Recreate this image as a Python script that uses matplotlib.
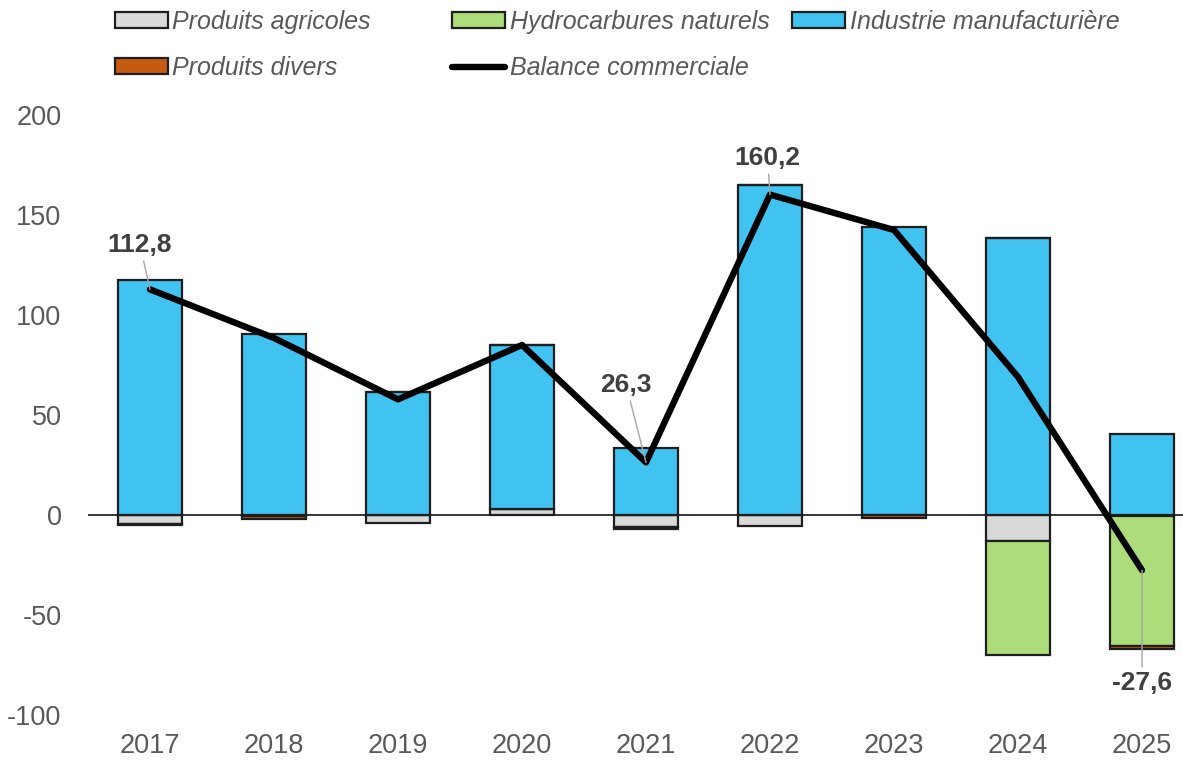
import matplotlib
matplotlib.use('Agg')
import matplotlib.pyplot as plt
from matplotlib.patches import Patch
from matplotlib.lines import Line2D
import numpy as np

# ---- data ----
years = ['2017', '2018', '2019', '2020', '2021', '2022', '2023', '2024', '2025']
produits_agricoles = [-4.5, -0.3, -4.0, 3.0, -6.0, -5.5, 0.0, -13.0, -0.5]
hydrocarbures_naturels = [0.0, 0.0, 0.0, 0.0, 0.0, 0.0, 0.0, -57.0, -65.0]
industrie_manufacturiere = [117.5, 90.5, 61.5, 82.0, 33.5, 165.0, 144.0, 138.5, 40.5]
produits_divers = [-0.3, -1.7, 0.0, 0.0, -1.2, 0.0, -1.5, 0.0, -1.5]
balance_commerciale = [112.8, 88.5, 57.8, 85.0, 26.3, 160.2, 142.5, 69.0, -27.6]
labels_balance = {0: '112,8', 4: '26,3', 5: '160,2', 8: '-27,6'}
y_ticks = [-100, -50, 0, 50, 100, 150, 200]

series = [
    ('Produits agricoles', produits_agricoles, '#D9D9D9'),
    ('Hydrocarbures naturels', hydrocarbures_naturels, '#ADDC7B'),
    ('Industrie manufacturière', industrie_manufacturiere, '#41C3F2'),
    ('Produits divers', produits_divers, '#C55A11'),
]

plt.rcParams['font.family'] = ['Liberation Sans', 'DejaVu Sans']
TXT = '#595959'

fig = plt.figure(figsize=(11.83, 7.6), dpi=100)
ax = fig.add_axes([88 / 1183, 45 / 760, 1116 / 1183, 600 / 760])

x = np.arange(len(years))
pos_base = np.zeros(len(years))
neg_base = np.zeros(len(years))
handles = {}
for name, vals, col in series:
    v = np.array(vals, dtype=float)
    bottom = np.where(v >= 0, pos_base, neg_base)
    ax.bar(x, v, 0.52, bottom=bottom, color=col, edgecolor='#1e1e1e',
           linewidth=1.6, zorder=2)
    handles[name] = Patch(facecolor=col, edgecolor='#1e1e1e', linewidth=1.6)
    pos_base = pos_base + np.where(v >= 0, v, 0)
    neg_base = neg_base + np.where(v < 0, v, 0)

ax.axhline(0, color='black', lw=1.1, zorder=1.5)

ax.plot(x, balance_commerciale, color='black', lw=4.6, solid_capstyle='round',
        solid_joinstyle='round', zorder=4)
handles['Balance commerciale'] = Line2D([0], [0], color='black', lw=4.6,
                                        solid_capstyle='round')

offsets = {0: (-0.08, 135), 4: (-0.16, 65), 5: (-0.02, 178.5), 8: (0.0, -84)}
for i, txt in labels_balance.items():
    dx, ty = offsets[i]
    ax.annotate(txt, xy=(x[i], balance_commerciale[i]), xytext=(x[i] + dx, ty),
                ha='center', va='center', fontsize=19, fontweight='bold',
                color='#404040', zorder=6,
                arrowprops=dict(arrowstyle='-', color='#A6A6A6', lw=1.0,
                                shrinkA=1, shrinkB=0))

ax.set_xlim(-0.5, len(years) - 0.5)
ax.set_ylim(-100, 200)
ax.set_yticks(y_ticks)
ax.set_yticklabels([str(t) for t in y_ticks])
ax.set_xticks(x)
ax.set_xticklabels(years)
ax.tick_params(axis='both', length=0, labelsize=19.5, colors=TXT)
ax.tick_params(axis='y', pad=19)
ax.tick_params(axis='x', pad=13)
for s in ax.spines.values():
    s.set_visible(False)

cols = [
    (115, ['Produits agricoles', 'Produits divers']),
    (452, ['Hydrocarbures naturels', 'Balance commerciale']),
    (792, ['Industrie manufacturière']),
]
for px, names in cols:
    leg = fig.legend([handles[n] for n in names], names, loc='upper left',
                     bbox_to_anchor=(px / 1183, 1 - 10 / 760), frameon=False,
                     borderaxespad=0, borderpad=0, handlelength=2.1,
                     handleheight=0.6, handletextpad=0.2, labelspacing=0.88,
                     prop={'size': 18, 'style': 'italic'})
    for t in leg.get_texts():
        t.set_color(TXT)

fig.savefig('out.png', dpi=100)
